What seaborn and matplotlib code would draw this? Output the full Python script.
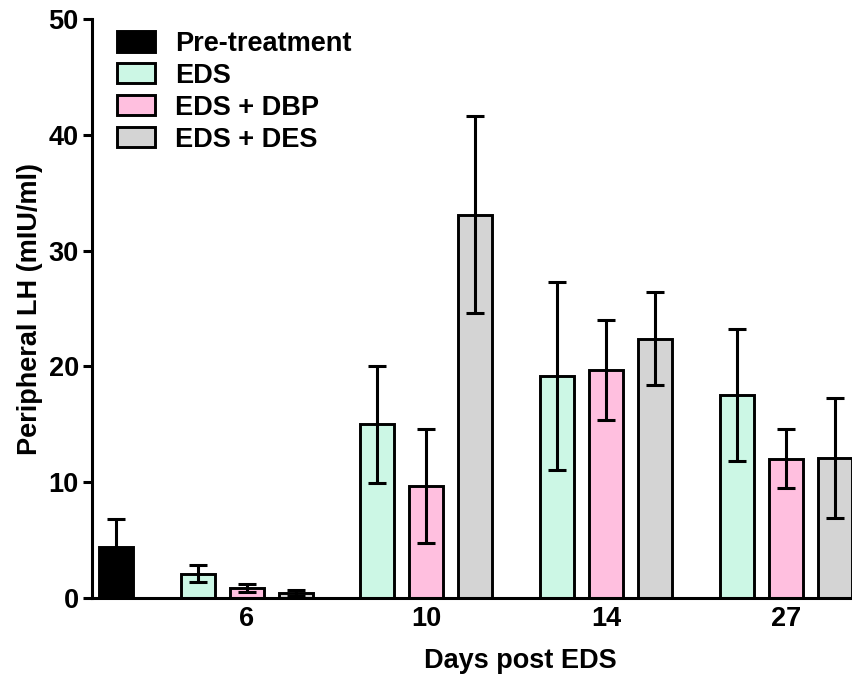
import numpy as np
import pandas as pd
import matplotlib
matplotlib.use("Agg")
import matplotlib.pyplot as plt
import seaborn as sns

groups = ["Pre-treatment", "EDS", "EDS + DBP", "EDS + DES"]
days = ["6", "10", "14", "27"]
pre_mean = [4.4]
pre_err = [2.45]
eds_mean = [2.1, 15.0, 19.2, 17.55]
eds_err = [0.75, 5.05, 8.1, 5.7]
dbp_mean = [0.9, 9.67, 19.7, 12.05]
dbp_err = [0.35, 4.95, 4.3, 2.55]
des_mean = [0.45, 33.1, 22.4, 12.1]
des_err = [0.25, 8.5, 4.0, 5.2]
colors = ["#000000", "#CCF7E5", "#FFBFDF", "#D4D4D4"]

GAP = 2.0 / 3.0
rows = [dict(group=groups[0], day="Pre", pos=0.0, mean=pre_mean[0], err=pre_err[0])]
series = [(groups[1], eds_mean, eds_err), (groups[2], dbp_mean, dbp_err), (groups[3], des_mean, des_err)]
for k, d in enumerate(days):
    for j, (g, m, e) in enumerate(series):
        pos = round(1 + GAP + k * (3 + GAP) + j, 6)
        rows.append(dict(group=g, day=d, pos=pos, mean=m[k], err=e[k]))
df = pd.DataFrame(rows)

sns.set_style("ticks")
plt.rcParams["font.family"] = ["Liberation Sans", "DejaVu Sans"]
plt.rcParams["font.weight"] = "bold"
plt.rcParams["text.color"] = "black"
plt.rcParams["axes.labelcolor"] = "black"
plt.rcParams["xtick.color"] = "black"
plt.rcParams["ytick.color"] = "black"
plt.rcParams["axes.edgecolor"] = "black"

fig = plt.figure(figsize=(8.52, 6.77), dpi=100)
ax = fig.add_axes([92 / 852, 1 - 598 / 677, 1 - 92 / 852, (598 - 19.2) / 677])

sns.barplot(data=df, x="pos", y="mean", hue="group", hue_order=groups, palette=colors,
            native_scale=True, dodge=False, width=0.69, errorbar=None, saturation=1,
            edgecolor="black", linewidth=2.1, ax=ax, legend=True, zorder=2)

ax.errorbar(df["pos"], df["mean"], yerr=df["err"], fmt="none", ecolor="black",
            elinewidth=2.2, capsize=6.5, capthick=2.2, zorder=3)

ax.set_xlim(-0.49, 15.02)
ax.set_ylim(0, 50)
ax.set_yticks([0, 10, 20, 30, 40, 50])
tick_pos = df[df["group"] == groups[2]]["pos"].tolist()
ax.set_xticks(tick_pos)
ax.set_xticklabels(days)

for s in ["top", "right"]:
    ax.spines[s].set_visible(False)
for s in ["left", "bottom"]:
    ax.spines[s].set_linewidth(2.2)
    ax.spines[s].set_color("black")
ax.tick_params(axis="y", length=6.5, width=2.2, labelsize=19.5, pad=3.0, direction="out")
ax.tick_params(axis="x", length=0, labelsize=19.5, pad=6)
for lbl in ax.get_xticklabels() + ax.get_yticklabels():
    lbl.set_fontweight("bold")

ax.set_xlabel("Days post EDS", fontsize=19.5, fontweight="bold")
ax.xaxis.set_label_coords(0.563, -0.086, transform=ax.transAxes)
ax.set_ylabel("Peripheral LH (mIU/ml)", fontsize=19.5, fontweight="bold", labelpad=4)

handles, labels = ax.get_legend_handles_labels()
leg = ax.legend(handles, labels, loc="upper left", bbox_to_anchor=(0.033, 0.980),
                frameon=False, prop={"size": 19.5, "weight": "bold"},
                handlelength=1.4, handleheight=0.78, handletextpad=0.74,
                labelspacing=0.22, borderpad=0, borderaxespad=0)
for h in leg.legend_handles:
    h.set_edgecolor("black")
    h.set_linewidth(2.1)

fig.savefig("out.png", dpi=100)
